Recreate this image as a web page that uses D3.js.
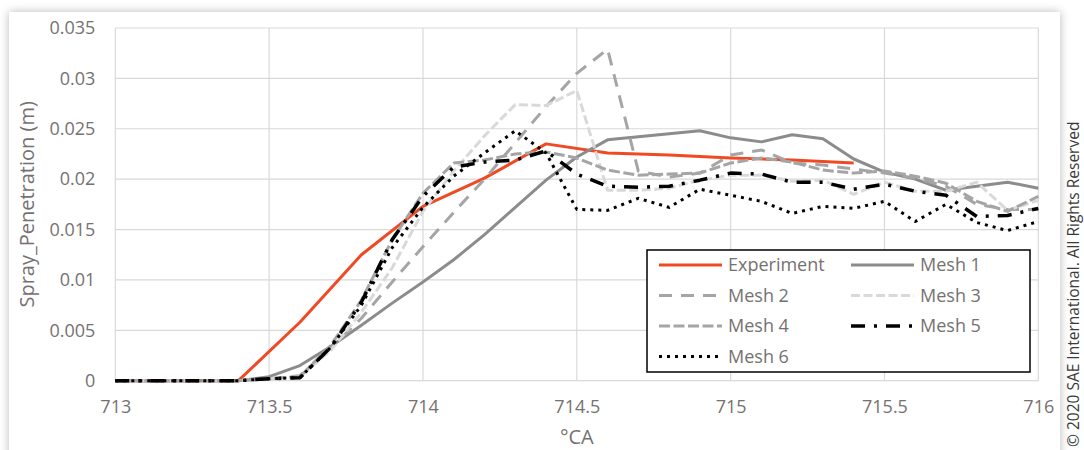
<!DOCTYPE html>
<html>
<head>
<meta charset="utf-8">
<script src="https://cdn.jsdelivr.net/npm/d3@7"></script>
<style>
  html, body { margin: 0; padding: 0; background: #ffffff; overflow: hidden; }
  #frame { position: absolute; left: 9px; top: 12px; width: 1051px; height: 460px;
           background: #fff; box-shadow: 0 0 9px rgba(0,0,0,0.28); }
  svg { position: absolute; left: 0; top: 0; }
</style>
</head>
<body>
<div id="frame"></div>
<svg id="chart" width="1084" height="450"></svg>
<script>
// ---- data ----
const crankAngle = [713.0, 713.1, 713.2, 713.3, 713.4, 713.5, 713.6, 713.7, 713.8, 713.9,
                    714.0, 714.1, 714.2, 714.3, 714.4, 714.5, 714.6, 714.7, 714.8, 714.9,
                    715.0, 715.1, 715.2, 715.3, 715.4, 715.5, 715.6, 715.7, 715.8, 715.9, 716.0];
const expAngle = [713.0, 713.2, 713.4, 713.6, 713.8, 714.0, 714.2, 714.4, 714.6, 714.8, 715.0, 715.2, 715.4];
const experiment = [0, 0, 0, 0.0058, 0.0125, 0.0173, 0.0201, 0.0235, 0.0226, 0.0224, 0.0221, 0.0219, 0.0216];
const mesh1 = [0, 0, 0, 0, 0, 0.0004, 0.0015, 0.0034, 0.0055, 0.0077,
               0.0098, 0.0120, 0.0145, 0.0172, 0.0199, 0.0222, 0.0239, 0.0242, 0.0245, 0.0248,
               0.0241, 0.0237, 0.0244, 0.0240, 0.0220, 0.0207, 0.0200, 0.0189, 0.0193, 0.0197, 0.0191];
const mesh2 = [0, 0, 0, 0, 0, 0.0002, 0.0005, 0.0032, 0.0062, 0.0098,
               0.0133, 0.0167, 0.0200, 0.0236, 0.0272, 0.0305, 0.0329, 0.0208, 0.0202, 0.0206,
               0.0224, 0.0229, 0.0216, 0.0214, 0.0210, 0.0206, 0.0201, 0.0193, 0.0175, 0.0170, 0.0170];
const mesh3 = [0, 0, 0, 0, 0, 0.0002, 0.0004, 0.0030, 0.0068, 0.0112,
               0.0168, 0.0208, 0.0243, 0.0274, 0.0273, 0.0288, 0.0189, 0.0189, 0.0191, 0.0199,
               0.0204, 0.0204, 0.0198, 0.0199, 0.0185, 0.0197, 0.0188, 0.0188, 0.0197, 0.0169, 0.0179];
const mesh4 = [0, 0, 0, 0, 0, 0.0002, 0.0004, 0.0035, 0.0080, 0.0140,
               0.0186, 0.0216, 0.0219, 0.0225, 0.0227, 0.0221, 0.0209, 0.0204, 0.0205, 0.0206,
               0.0216, 0.0221, 0.0217, 0.0209, 0.0206, 0.0208, 0.0203, 0.0196, 0.0178, 0.0168, 0.0183];
const mesh5 = [0, 0, 0, 0, 0, 0.0002, 0.0003, 0.0033, 0.0078, 0.0140,
               0.0183, 0.0212, 0.0217, 0.0219, 0.0228, 0.0205, 0.0193, 0.0192, 0.0193, 0.0199,
               0.0206, 0.0205, 0.0197, 0.0197, 0.0190, 0.0195, 0.0188, 0.0184, 0.0163, 0.0164, 0.0171];
const mesh6 = [0, 0, 0, 0, 0, 0.0002, 0.0003, 0.0033, 0.0075, 0.0132,
               0.0172, 0.0203, 0.0226, 0.0248, 0.0226, 0.0170, 0.0169, 0.0181, 0.0172, 0.0190,
               0.0184, 0.0178, 0.0166, 0.0173, 0.0171, 0.0178, 0.0158, 0.0175, 0.0157, 0.0149, 0.0158];
const xTicks = [713, 713.5, 714, 714.5, 715, 715.5, 716];
const yTicks = [0, 0.005, 0.01, 0.015, 0.02, 0.025, 0.03, 0.035];
const seriesNames = ["Experiment", "Mesh 1", "Mesh 2", "Mesh 3", "Mesh 4", "Mesh 5", "Mesh 6"];

// ---- styles ----
const styles = {
  "Experiment": { color: "#f04a25", width: 3,   dash: null,          cap: "butt" },
  "Mesh 1":     { color: "#8c8c8c", width: 3,   dash: null,          cap: "butt" },
  "Mesh 2":     { color: "#a5a5a5", width: 3,   dash: "13,9",        cap: "butt" },
  "Mesh 3":     { color: "#d9d9d9", width: 3,   dash: "9,3.5",       cap: "butt" },
  "Mesh 4":     { color: "#a5a5a5", width: 3,   dash: "11,3.5",      cap: "butt" },
  "Mesh 5":     { color: "#000000", width: 3.5, dash: "14,9,3,9",    cap: "butt" },
  "Mesh 6":     { color: "#000000", width: 3,   dash: "3,5",         cap: "butt" }
};

const series = [
  { name: "Experiment", xs: expAngle,   ys: experiment },
  { name: "Mesh 1",     xs: crankAngle, ys: mesh1 },
  { name: "Mesh 2",     xs: crankAngle, ys: mesh2 },
  { name: "Mesh 3",     xs: crankAngle, ys: mesh3 },
  { name: "Mesh 4",     xs: crankAngle, ys: mesh4 },
  { name: "Mesh 5",     xs: crankAngle, ys: mesh5 },
  { name: "Mesh 6",     xs: crankAngle, ys: mesh6 }
];

const svg = d3.select("#chart");
const font = "'Open Sans', 'Segoe UI', sans-serif";
const textColor = "#767171";

const plot = { left: 115.3, right: 1038.3, top: 28, bottom: 380.7 };
const x = d3.scaleLinear().domain([713, 716]).range([plot.left, plot.right]);
const y = d3.scaleLinear().domain([0, 0.035]).range([plot.bottom, plot.top]);

// gridlines
const grid = svg.append("g");
grid.selectAll("line.v").data(xTicks).enter().append("line")
  .attr("x1", d => x(d)).attr("x2", d => x(d))
  .attr("y1", plot.top).attr("y2", plot.bottom)
  .attr("stroke", "#d9d9d9").attr("stroke-width", 1.2);
grid.selectAll("line.h").data(yTicks).enter().append("line")
  .attr("x1", plot.left).attr("x2", plot.right)
  .attr("y1", d => y(d)).attr("y2", d => y(d))
  .attr("stroke", "#d9d9d9").attr("stroke-width", 1.2);

// axes (labels only, via d3 axes)
const yAxis = d3.axisLeft(y).tickValues(yTicks).tickSize(0).tickPadding(0)
  .tickFormat(d => d === 0 ? "0" : String(+d.toFixed(3)));
const gy = svg.append("g").attr("transform", `translate(${plot.left - 20},0)`).call(yAxis);
gy.select(".domain").remove();
gy.selectAll("text").attr("font-family", font).attr("font-size", 18).attr("fill", textColor);

const xAxis = d3.axisBottom(x).tickValues(xTicks).tickSize(0).tickPadding(0)
  .tickFormat(d => String(d));
const gx = svg.append("g").attr("transform", `translate(0,${plot.bottom + 20})`).call(xAxis);
gx.select(".domain").remove();
gx.selectAll("text").attr("font-family", font).attr("font-size", 18).attr("fill", textColor);

// axis titles
svg.append("text")
  .attr("transform", `translate(34,${(plot.top + plot.bottom) / 2}) rotate(-90)`)
  .attr("text-anchor", "middle")
  .attr("font-family", font).attr("font-size", 20).attr("fill", textColor)
  .text("Spray_Penetration (m)");
svg.append("text")
  .attr("x", x(714.5)).attr("y", 444)
  .attr("text-anchor", "middle")
  .attr("font-family", font).attr("font-size", 20).attr("fill", textColor)
  .text("°CA");

// lines
const line = d3.line().x(d => x(d[0])).y(d => y(d[1]));
const lines = svg.append("g");
series.forEach(s => {
  const st = styles[s.name];
  const pts = s.xs.map((v, i) => [v, s.ys[i]]);
  lines.append("path")
    .attr("d", line(pts))
    .attr("fill", "none")
    .attr("stroke", st.color)
    .attr("stroke-width", st.width)
    .attr("stroke-dasharray", st.dash)
    .attr("stroke-linecap", st.cap)
    .attr("stroke-linejoin", "round");
});

// legend
const leg = svg.append("g");
leg.append("rect").attr("x", 647).attr("y", 250).attr("width", 383).attr("height", 122)
  .attr("fill", "#fff").attr("stroke", "#000").attr("stroke-width", 1.5);
const rowsY = [265, 295.5, 326, 356.5];
const colX = [659, 851];
seriesNames.forEach((name, i) => {
  const st = styles[name];
  const cx = colX[i % 2], cy = rowsY[Math.floor(i / 2)];
  leg.append("line").attr("x1", cx).attr("x2", cx + 63).attr("y1", cy).attr("y2", cy)
    .attr("stroke", st.color).attr("stroke-width", st.width)
    .attr("stroke-dasharray", st.dash).attr("stroke-linecap", st.cap);
  leg.append("text").attr("x", cx + 69).attr("y", cy).attr("dy", "0.35em")
    .attr("font-family", font).attr("font-size", 18).attr("fill", textColor)
    .text(name);
});

// copyright
svg.append("text")
  .attr("transform", "translate(1079,447) rotate(-90)")
  .attr("font-family", font).attr("font-size", 15.5).attr("fill", "#3a3a3a")
  .text("© 2020 SAE International. All Rights Reserved");
</script>
</body>
</html>
